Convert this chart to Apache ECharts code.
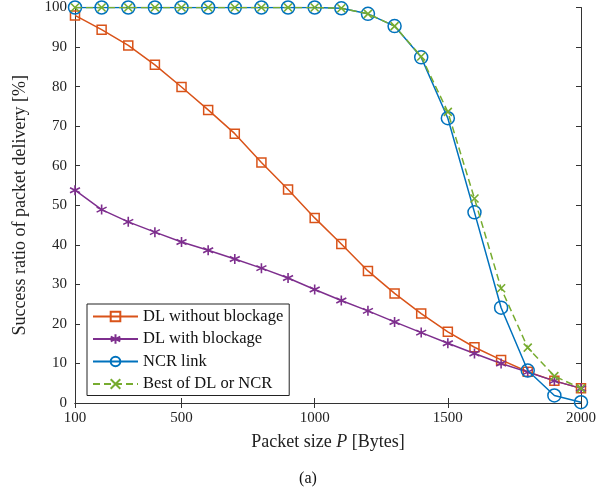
<!DOCTYPE html>
<html lang="en">
<head>
    <meta charset="UTF-8">
    <title>Packet delivery</title>
    <script src="https://cdn.jsdelivr.net/npm/echarts@6/dist/echarts.min.js"></script>
    <style type="text/css">
        html, body { margin: 0; height: 100%; background: #fff; }
        #main { width: 616px; height: 492px; }
    </style>
</head>
<body>
    <div id="main"></div>
    <script type="text/javascript">
        // packet sizes (Bytes)
        var packetSizes = [100, 200, 300, 400, 500, 600, 700, 800, 900, 1000,
                           1100, 1200, 1300, 1400, 1500, 1600, 1700, 1800, 1900, 2000];
        var xTicks = [100, 500, 1000, 1500, 2000];

        // success ratio [%]
        var dlNoBlock = [98.0, 94.4, 90.4, 85.5, 79.9, 74.1, 68.1, 60.8, 54.0, 46.8,
                         40.2, 33.4, 27.7, 22.6, 18.0, 14.1, 10.9, 7.9, 5.6, 3.7];
        var dlBlock = [53.8, 48.9, 45.8, 43.2, 40.7, 38.6, 36.4, 34.1, 31.6, 28.7,
                       25.9, 23.3, 20.5, 17.8, 15.1, 12.5, 10.0, 7.8, 5.6, 3.7];
        var ncrLink = [100, 100, 100, 100, 100, 100, 100, 100, 100, 100,
                       99.8, 98.4, 95.3, 87.4, 72.0, 48.2, 24.1, 8.2, 1.9, 0.2];
        var bestOf = [100, 100, 100, 100, 100, 100, 100, 100, 100, 100,
                      99.8, 98.4, 95.3, 87.6, 73.6, 51.7, 29.0, 14.0, 6.8, 3.7];

        var FONT = 'Liberation Serif';
        var AXIS = '#333';

        function pairs(ys) {
            return packetSizes.map(function (x, i) { return [x, ys[i]]; });
        }

        var chart = echarts.init(document.getElementById('main'));

        var option = {
            backgroundColor: '#fff',
            animation: false,
            textStyle: { fontFamily: FONT },
            title: {
                text: '(a)',
                left: 'center',
                top: 466,
                textStyle: { fontFamily: FONT, fontSize: 16, fontWeight: 'normal', color: '#111' }
            },
            grid: { left: 75, right: 35, top: 7, bottom: 89 },
            legend: {
                orient: 'vertical',
                left: 87,
                top: 304,
                padding: [4, 6, 3, 5],
                itemWidth: 45,
                itemHeight: 12,
                itemGap: 5.5,
                backgroundColor: '#fff',
                borderColor: '#222',
                borderWidth: 1,
                borderRadius: 0,
                textStyle: { fontFamily: FONT, fontSize: 16.5, color: '#111' },
                data: ['DL without blockage', 'DL with blockage', 'NCR link', 'Best of DL or NCR']
            },
            xAxis: [{
                type: 'value',
                min: 100,
                max: 2000,
                name: 'Packet size {i|P} [Bytes]',
                nameLocation: 'middle',
                nameGap: 30,
                nameTextStyle: {
                    fontFamily: FONT, fontSize: 18, color: '#222',
                    rich: { i: { fontFamily: FONT, fontSize: 18, fontStyle: 'italic', color: '#222' } }
                },
                axisLine: { lineStyle: { color: AXIS, width: 1 } },
                axisTick: { inside: true, length: 5, customValues: xTicks, lineStyle: { color: AXIS } },
                axisLabel: {
                    customValues: xTicks, fontSize: 15, color: '#222', margin: 8, fontFamily: FONT,
                    formatter: function (v) { return String(v); }
                },
                splitLine: { show: false }
            }, {
                type: 'value',
                position: 'top',
                min: 100,
                max: 2000,
                axisLine: { show: true, lineStyle: { color: AXIS, width: 1 } },
                axisTick: { inside: true, length: 5, customValues: xTicks, lineStyle: { color: AXIS } },
                axisLabel: { show: false },
                splitLine: { show: false }
            }],
            yAxis: [{
                type: 'value',
                min: 0,
                max: 100,
                interval: 10,
                name: 'Success ratio of packet delivery [%]',
                nameLocation: 'middle',
                nameGap: 46,
                nameTextStyle: { fontFamily: FONT, fontSize: 18, color: '#222' },
                axisLine: { show: true, lineStyle: { color: AXIS, width: 1 } },
                axisTick: { show: true, inside: true, length: 5, lineStyle: { color: AXIS } },
                axisLabel: { fontSize: 15, color: '#222', margin: 8, fontFamily: FONT },
                splitLine: { show: false }
            }, {
                type: 'value',
                position: 'right',
                min: 0,
                max: 100,
                interval: 10,
                axisLine: { show: true, lineStyle: { color: AXIS, width: 1 } },
                axisTick: { show: true, inside: true, length: 5, lineStyle: { color: AXIS } },
                axisLabel: { show: false },
                splitLine: { show: false }
            }],
            series: [{
                name: 'DL without blockage',
                type: 'line',
                data: pairs(dlNoBlock),
                symbol: 'rect',
                symbolSize: 9,
                lineStyle: { color: '#D95319', width: 1.5 },
                itemStyle: { color: 'rgba(255,255,255,0)', borderColor: '#D95319', borderWidth: 1.5 },
                z: 2
            }, {
                name: 'DL with blockage',
                type: 'line',
                data: pairs(dlBlock),
                symbol: 'path://M5,0L5,10M0.7,2.5L9.3,7.5M0.7,7.5L9.3,2.5',
                symbolSize: 10,
                lineStyle: { color: '#7E2F8E', width: 1.5 },
                itemStyle: { color: 'rgba(0,0,0,0)', borderColor: '#7E2F8E', borderWidth: 1.6 },
                z: 2
            }, {
                name: 'NCR link',
                type: 'line',
                data: pairs(ncrLink),
                symbol: 'circle',
                symbolSize: 13,
                lineStyle: { color: '#0072BD', width: 1.5 },
                itemStyle: { color: 'rgba(255,255,255,0)', borderColor: '#0072BD', borderWidth: 1.5 },
                z: 3
            }, {
                name: 'Best of DL or NCR',
                type: 'line',
                data: pairs(bestOf),
                symbol: 'path://M0,0L10,10M10,0L0,10',
                symbolSize: 8,
                lineStyle: { color: '#77AC30', width: 1.5, type: [7, 4] },
                itemStyle: { color: 'rgba(0,0,0,0)', borderColor: '#77AC30', borderWidth: 1.6 },
                z: 4
            }]
        };

        chart.setOption(option);
    </script>
</body>
</html>
